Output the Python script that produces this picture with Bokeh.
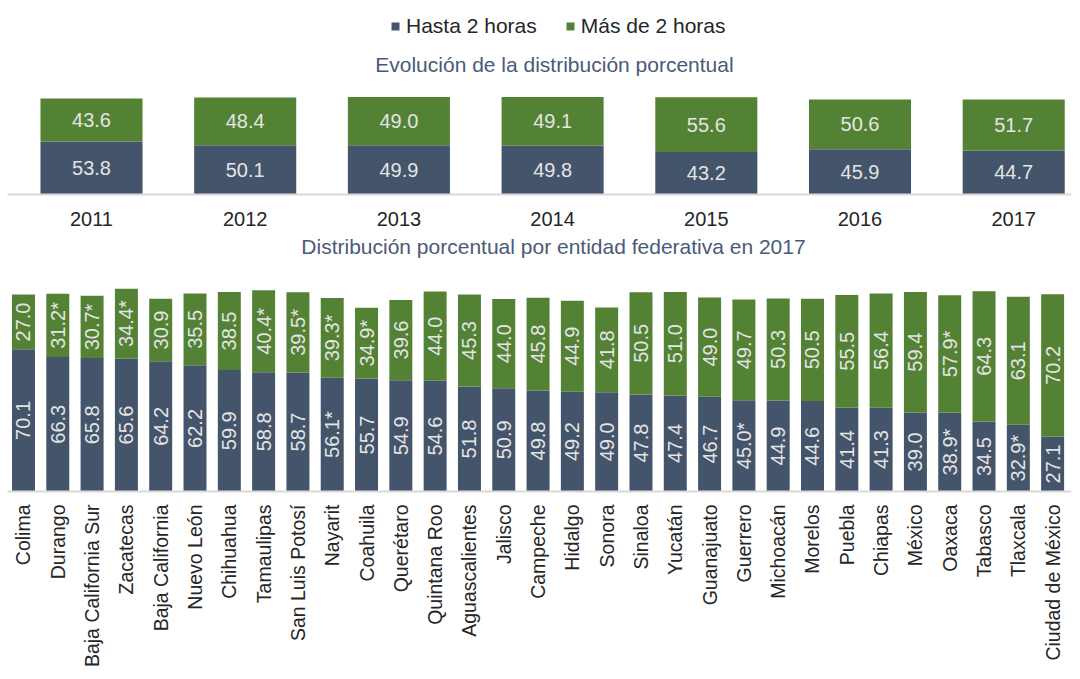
import math
from bokeh.plotting import figure
from bokeh.models import (ColumnDataSource, Range1d, FixedTicker, Legend, LegendItem)
from bokeh.layouts import column
from bokeh.embed import file_html
from bokeh.resources import INLINE
from bokeh.core.properties import value

# ---------------- data ----------------
years = ["2011", "2012", "2013", "2014", "2015", "2016", "2017"]
hasta_anual = [53.8, 50.1, 49.9, 49.8, 43.2, 45.9, 44.7]
mas_anual = [43.6, 48.4, 49.0, 49.1, 55.6, 50.6, 51.7]

estados = ["Colima", "Durango", "Baja California Sur", "Zacatecas", "Baja California",
           "Nuevo León", "Chihuahua", "Tamaulipas", "San Luis Potosí", "Nayarit",
           "Coahuila", "Querétaro", "Quintana Roo", "Aguascalientes", "Jalisco",
           "Campeche", "Hidalgo", "Sonora", "Sinaloa", "Yucatán", "Guanajuato",
           "Guerrero", "Michoacán", "Morelos", "Puebla", "Chiapas", "México",
           "Oaxaca", "Tabasco", "Tlaxcala", "Ciudad de México"]
hasta_estado = [70.1, 66.3, 65.8, 65.6, 64.2, 62.2, 59.9, 58.8, 58.7, 56.1,
                55.7, 54.9, 54.6, 51.8, 50.9, 49.8, 49.2, 49.0, 47.8, 47.4,
                46.7, 45.0, 44.9, 44.6, 41.4, 41.3, 39.0, 38.9, 34.5, 32.9, 27.1]
mas_estado = [27.0, 31.2, 30.7, 34.4, 30.9, 35.5, 38.5, 40.4, 39.5, 39.3,
              34.9, 39.6, 44.0, 45.3, 44.0, 45.8, 44.9, 41.8, 50.5, 51.0,
              49.0, 49.7, 50.3, 50.5, 55.5, 56.4, 59.4, 57.9, 64.3, 63.1, 70.2]
# values marked with an asterisk in the source
hasta_marca = ["Nayarit", "Guerrero", "Oaxaca", "Tlaxcala"]
mas_marca = ["Durango", "Baja California Sur", "Zacatecas", "Tamaulipas",
             "San Luis Potosí", "Nayarit", "Coahuila", "Oaxaca"]

series = ["Hasta 2 horas", "Más de 2 horas"]
titulo_1 = "Evolución de la distribución porcentual"
titulo_2 = "Distribución porcentual por entidad federativa en 2017"

# ---------------- style ----------------
FONT = "Liberation Sans"
BLUE = "#44546A"
GREEN = "#548235"
VAL_C = "#E4E4E4"
DARK = "#262626"
TITLE_C = "#4A5A78"
AXIS_C = "#D9D9D9"


def style_axis(axis, ticks, labels, size, standoff, orientation=None):
    axis.ticker = FixedTicker(ticks=ticks)
    axis.major_label_overrides = {i: t for i, t in zip(ticks, labels)}
    if orientation is not None:
        axis.major_label_orientation = orientation
    axis.major_tick_line_color = None
    axis.minor_tick_line_color = None
    axis.major_tick_out = 0
    axis.major_tick_in = 0
    axis.minor_tick_out = 0
    axis.axis_line_color = AXIS_C
    axis.axis_line_width = 2
    axis.major_label_standoff = standoff
    axis.major_label_text_font = FONT
    axis.major_label_text_font_size = size
    axis.major_label_text_color = DARK


# ---------------- top chart ----------------
xy = list(range(len(years)))
src1 = ColumnDataSource(dict(
    x=xy, hasta=hasta_anual, mas=mas_anual,
    y_h=[h / 2 for h in hasta_anual],
    y_m=[h + m / 2 for h, m in zip(hasta_anual, mas_anual)],
    t_h=[f"{v:.1f}" for v in hasta_anual],
    t_m=[f"{v:.1f}" for v in mas_anual],
))

p1 = figure(width=1071, height=228, output_backend="svg",
            toolbar_location=None, title=None,
            x_range=Range1d(-0.5465, 6.376), y_range=Range1d(0, 196.9),
            y_axis_location=None, min_border_left=7, min_border_right=0,
            min_border_top=0, min_border_bottom=0)
rs = p1.vbar_stack(["hasta", "mas"], x="x", width=0.664, source=src1,
                   color=[BLUE, GREEN], line_color=None)
for col_y, col_t in (("y_h", "t_h"), ("y_m", "t_m")):
    p1.text(x="x", y=col_y, text=col_t, source=src1, text_align="center",
            text_baseline="middle", text_color=VAL_C, text_font=value(FONT),
            text_font_size="20px")
p1.text(x=[3.012], y=[132.3], text=[titulo_1], text_align="center",
        text_baseline="middle", text_color=TITLE_C, text_font=value(FONT),
        text_font_size="21px")

style_axis(p1.xaxis[0], xy, years, "20px", 17)
p1.xgrid.grid_line_color = None
p1.ygrid.grid_line_color = None
p1.outline_line_color = None

legend = Legend(items=[LegendItem(label=series[0], renderers=[rs[0]]),
                       LegendItem(label=series[1], renderers=[rs[1]])],
                orientation="horizontal", location=(379, 152),
                glyph_width=10, glyph_height=10, label_standoff=6, spacing=28,
                label_height=20, label_text_font=FONT, label_text_font_size="21px",
                label_text_color=DARK, padding=4, margin=0,
                border_line_alpha=0, background_fill_alpha=0)
p1.add_layout(legend)

# ---------------- bottom chart ----------------
xs = list(range(len(estados)))
src2 = ColumnDataSource(dict(
    x=xs, hasta=hasta_estado, mas=mas_estado,
    y_h=[h / 2 for h in hasta_estado],
    y_m=[h + m / 2 for h, m in zip(hasta_estado, mas_estado)],
    t_h=[f"{v:.1f}" + ("*" if e in hasta_marca else "") for v, e in zip(hasta_estado, estados)],
    t_m=[f"{v:.1f}" + ("*" if e in mas_marca else "") for v, e in zip(mas_estado, estados)],
))

p2 = figure(width=1071, height=442, output_backend="svg",
            toolbar_location=None, title=None,
            x_range=Range1d(-0.466, 30.55), y_range=Range1d(0, 129.7),
            y_axis_location=None, min_border_left=7, min_border_right=0,
            min_border_top=0, min_border_bottom=0)
p2.vbar_stack(["hasta", "mas"], x="x", width=0.67, source=src2,
              color=[BLUE, GREEN], line_color=None)
for col_y, col_t in (("y_h", "t_h"), ("y_m", "t_m")):
    p2.text(x="x", y=col_y, text=col_t, source=src2, angle=math.pi / 2,
            text_align="center", text_baseline="middle", text_color=VAL_C,
            text_font=value(FONT), text_font_size="20px")
p2.text(x=[15.45], y=[120.8], text=[titulo_2], text_align="center",
        text_baseline="middle", text_color=TITLE_C, text_font=value(FONT),
        text_font_size="21px")

style_axis(p2.xaxis[0], xs, estados, "19.5px", 13, orientation=math.pi / 2)
p2.xgrid.grid_line_color = None
p2.ygrid.grid_line_color = None
p2.outline_line_color = None

layout = column(p1, p2, spacing=0)
open("out.html", "w").write(file_html(layout, INLINE))
